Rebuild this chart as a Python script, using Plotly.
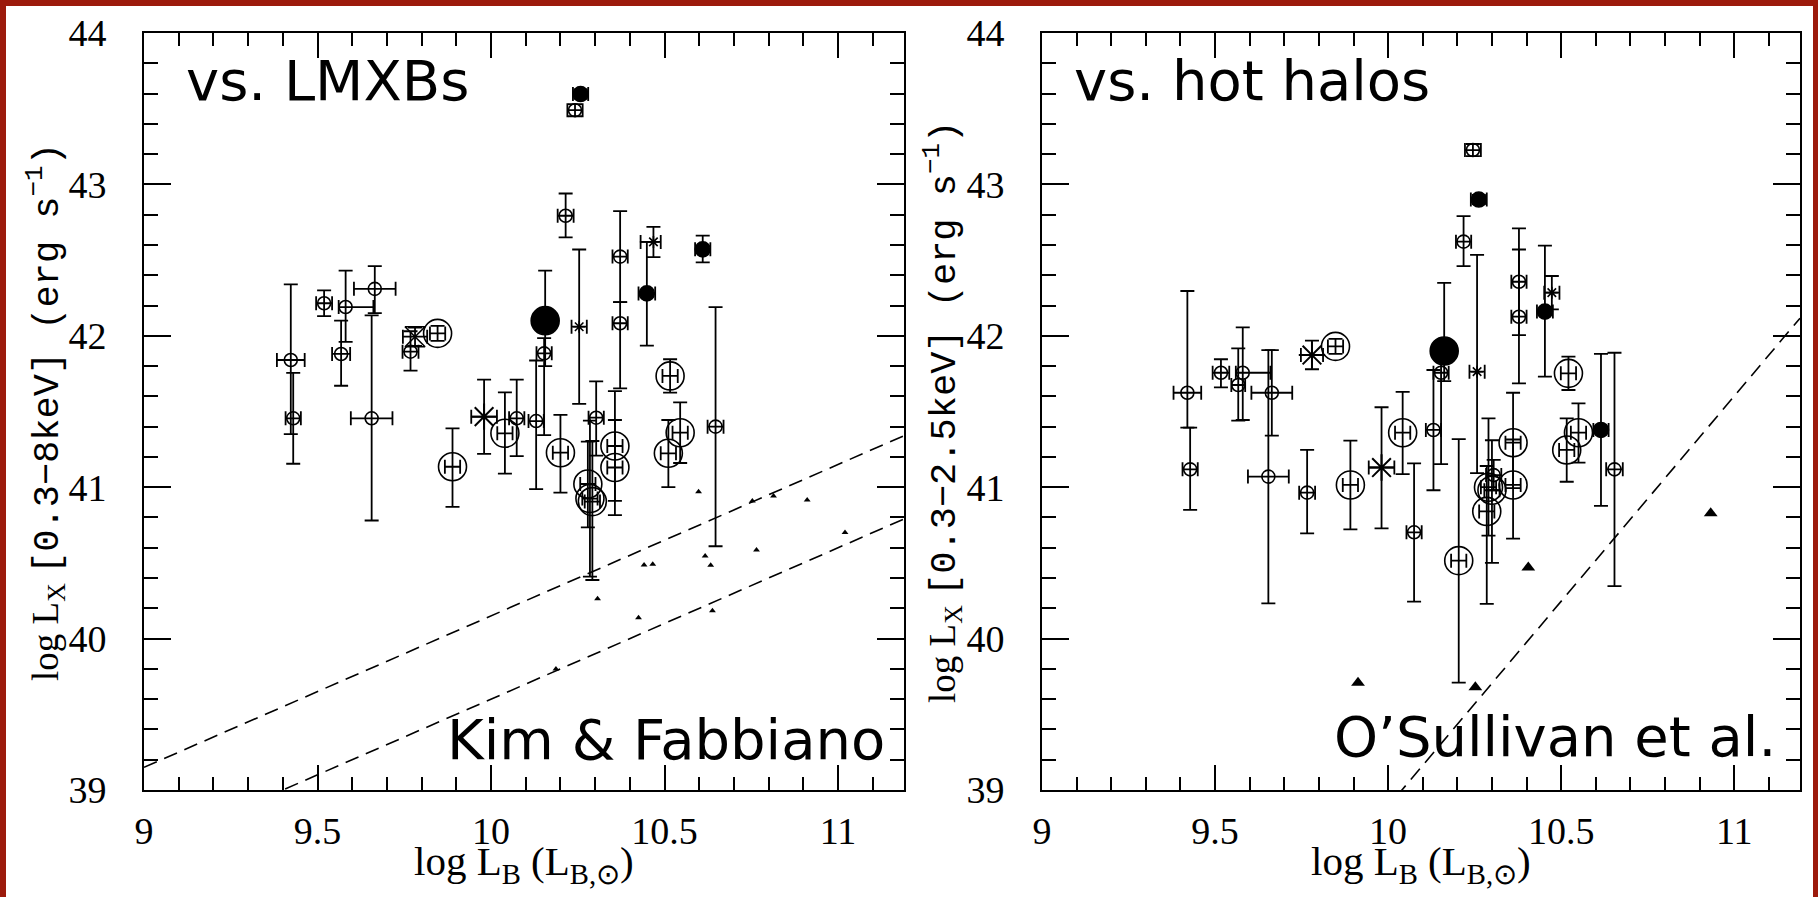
import plotly.graph_objects as go

W, H = 1818, 897

# ---------------- left panel : Kim & Fabbiano, log Lx [0.3-8 keV] ----------------
# small open circles
kf_sm_lb = [9.423, 9.430, 9.519, 9.581, 9.665, 9.568, 9.656, 9.768, 10.074, 10.130, 10.153,
            10.242, 10.215, 10.372, 10.372, 10.303, 10.647]
kf_sm_lx = [41.84, 41.455, 42.215, 42.19, 42.31, 41.88, 41.455, 41.895, 41.455, 41.437, 41.884,
            43.49, 42.793, 42.523, 42.083, 41.459, 41.40]
kf_sm_up = [0.50, 0.30, 0.085, 0.24, 0.15, 0.22, 0.68, 0.135, 0.255, 0.40, 0.10,
            0.04, 0.147, 0.30, 0.14, 0.24, 0.79]
kf_sm_dn = [0.49, 0.30, 0.085, 0.23, 0.16, 0.21, 0.675, 0.125, 0.25, 0.45, 0.54,
            0.04, 0.143, 0.30, 0.43, 0.25, 0.79]
kf_sm_xl = [0.04, 0.022, 0.023, 0.02, 0.06, 0.026, 0.06, 0.023, 0.022, 0.022, 0.022,
            0.022, 0.023, 0.022, 0.022, 0.022, 0.023]
kf_sm_xr = [0.04, 0.022, 0.023, 0.08, 0.06, 0.026, 0.06, 0.023, 0.022, 0.022, 0.022,
            0.022, 0.023, 0.022, 0.022, 0.022, 0.023]

# large open circles
kf_lg_lb = [9.846, 9.889, 10.040, 10.200, 10.516, 10.545, 10.511, 10.357, 10.357, 10.279, 10.285, 10.292]
kf_lg_lx = [42.016, 41.135, 41.356, 41.228, 41.735, 41.36, 41.224, 41.272, 41.13, 41.021, 40.925, 40.905]
kf_lg_up = [0.05, 0.254, 0.27, 0.25, 0.11, 0.20, 0.22, 0.363, 0.314, 0.28, 0.515, 0.40]
kf_lg_dn = [0.05, 0.265, 0.266, 0.264, 0.11, 0.20, 0.224, 0.362, 0.314, 0.286, 0.515, 0.518]
kf_lg_xe = [0.022] * 12

# small filled circles
kf_fill_lb = [10.258, 10.449, 10.610]
kf_fill_lx = [43.597, 42.28, 42.571]
kf_fill_up = [0.03, 0.34, 0.09]
kf_fill_dn = [0.03, 0.345, 0.086]
kf_fill_xe = [0.022, 0.024, 0.022]

# big filled circle
kf_big_lb = [10.156]
kf_big_lx = [42.10]
kf_big_up = [0.33]
kf_big_dn = [0.30]

# asterisks (big, small) and hourglass
kf_ast_lb = [9.980]
kf_ast_lx = [41.466]
kf_ast_up = [0.244]
kf_ast_dn = [0.246]
kf_ast_xe = [0.037]

kf_star_lb = [10.254, 10.468]
kf_star_lx = [42.06, 42.62]
kf_star_up = [0.51, 0.10]
kf_star_dn = [0.51, 0.10]
kf_star_xl = [0.022, 0.037]
kf_star_xr = [0.022, 0.021]

kf_hg_lb = [9.781]
kf_hg_lx = [41.994]
kf_hg_up = [0.06]
kf_hg_dn = [0.06]
kf_hg_xe = [0.035]

# triangles
kf_tri_lb = [10.598, 10.753, 10.814, 10.911, 11.02, 10.765, 10.617, 10.633, 10.441, 10.466,
             10.307, 10.425, 10.638, 10.187]
kf_tri_lx = [40.97, 40.909, 40.942, 40.915, 40.70, 40.585, 40.545, 40.484, 40.486, 40.491,
             40.263, 40.138, 40.184, 39.80]

# LMXB lines: log Lx = log LB + offset
kf_line_offsets = [30.15, 29.60]

# ---------------- right panel : O'Sullivan et al., log Lx [0.3-2.5 keV] ----------------
os_sm_lb = [10.245, 10.218, 10.378, 10.378, 10.153, 10.131, 9.517, 9.580, 9.567, 9.420,
            9.428, 9.664, 9.654, 9.766, 10.075, 10.654, 10.305]
os_sm_lx = [43.227, 42.622, 42.357, 42.126, 41.756, 41.378, 41.756, 41.756, 41.675, 41.624,
            41.118, 41.624, 41.07, 40.964, 40.702, 41.118, 41.08]
os_sm_up = [0.04, 0.168, 0.353, 0.444, 0.10, 0.396, 0.089, 0.30, 0.242, 0.672,
            0.275, 0.282, 0.836, 0.282, 0.456, 0.77, 0.10]
os_sm_dn = [0.04, 0.162, 0.352, 0.44, 0.603, 0.398, 0.096, 0.312, 0.235, 0.231,
            0.268, 0.284, 0.837, 0.269, 0.458, 0.771, 0.10]
os_sm_xl = [0.023, 0.022, 0.022, 0.022, 0.022, 0.022, 0.024, 0.02, 0.02, 0.04,
            0.022, 0.059, 0.059, 0.023, 0.022, 0.024, 0.022]
os_sm_xr = [0.023, 0.022, 0.022, 0.022, 0.022, 0.022, 0.024, 0.08, 0.02, 0.04,
            0.022, 0.059, 0.059, 0.023, 0.022, 0.024, 0.022]

os_lg_lb = [9.848, 9.891, 10.042, 10.204, 10.521, 10.550, 10.516, 10.361, 10.361, 10.290, 10.300, 10.285]
os_lg_lx = [41.93, 41.015, 41.36, 40.515, 41.752, 41.36, 41.246, 41.294, 41.015, 41.00, 40.98, 40.84]
os_lg_up = [0.05, 0.292, 0.27, 0.803, 0.11, 0.194, 0.209, 0.33, 0.30, 0.455, 0.33, 0.30]
os_lg_dn = [0.05, 0.293, 0.273, 0.806, 0.11, 0.198, 0.21, 0.30, 0.355, 0.32, 0.48, 0.61]
os_lg_xe = [0.022] * 12

os_fill_lb = [10.262, 10.453, 10.615]
os_fill_lx = [42.90, 42.16, 41.378]
os_fill_up = [0.03, 0.435, 0.502]
os_fill_dn = [0.03, 0.43, 0.502]
os_fill_xe = [0.023, 0.023, 0.022]

os_big_lb = [10.162]
os_big_lx = [41.90]
os_big_up = [0.45]
os_big_dn = [0.20]

os_ast_lb = [9.780, 9.981]
os_ast_lx = [41.873, 41.13]
os_ast_up = [0.095, 0.398]
os_ast_dn = [0.094, 0.402]
os_ast_xe = [0.032, 0.037]

os_star_lb = [10.257, 10.473]
os_star_lx = [41.763, 42.285]
os_star_up = [0.771, 0.11]
os_star_dn = [0.67, 0.11]
os_star_xe = [0.022, 0.022]

os_tri_lb = [9.913, 10.252, 10.405, 10.932]
os_tri_lx = [39.709, 39.678, 40.47, 40.828]

# hot-halo relation: log Lx = pivot_lx + slope * (log LB - pivot_lb)
os_line_slope = 2.71
os_line_pivot = (10.04, 39.0)

X_RANGE = [9, 11.19]
Y_RANGE = [39, 44]

fig = go.Figure()


def add_points(xa, ya, lb, lx, up=None, dn=None, xl=None, xr=None,
               symbol='circle-open', size=13, lw=1.6):
    kw = {}
    if up is not None:
        kw['error_y'] = dict(type='data', symmetric=False, array=up, arrayminus=dn,
                             color='black', thickness=1.8, width=7)
    if xl is not None:
        kw['error_x'] = dict(type='data', symmetric=False, array=xr, arrayminus=xl,
                             color='black', thickness=1.8, width=7)
    fig.add_trace(go.Scatter(
        x=lb, y=lx, xaxis=xa, yaxis=ya, mode='markers',
        marker=dict(symbol=symbol, size=size, color='black',
                    line=dict(color='black', width=lw)),
        showlegend=False, hoverinfo='skip', **kw))


# left panel
for off in kf_line_offsets:
    fig.add_trace(go.Scatter(x=X_RANGE, y=[X_RANGE[0] + off, X_RANGE[1] + off],
                             xaxis='x', yaxis='y', mode='lines',
                             line=dict(color='black', width=1.6, dash='14px,8px'),
                             showlegend=False, hoverinfo='skip'))
add_points('x', 'y', kf_sm_lb, kf_sm_lx, kf_sm_up, kf_sm_dn, kf_sm_xl, kf_sm_xr, 'circle-open', 13)
add_points('x', 'y', kf_lg_lb, kf_lg_lx, kf_lg_up, kf_lg_dn, kf_lg_xe, kf_lg_xe, 'circle-open', 28)
add_points('x', 'y', kf_fill_lb, kf_fill_lx, kf_fill_up, kf_fill_dn, kf_fill_xe, kf_fill_xe, 'circle', 15)
add_points('x', 'y', kf_big_lb, kf_big_lx, kf_big_up, kf_big_dn, None, None, 'circle', 28)
add_points('x', 'y', kf_ast_lb, kf_ast_lx, kf_ast_up, kf_ast_dn, kf_ast_xe, kf_ast_xe, 'asterisk-open', 22, 2)
add_points('x', 'y', kf_star_lb, kf_star_lx, kf_star_up, kf_star_dn, kf_star_xl, kf_star_xr, 'asterisk-open', 10)
add_points('x', 'y', kf_hg_lb, kf_hg_lx, kf_hg_up, kf_hg_dn, kf_hg_xe, kf_hg_xe, 'hourglass-open', 20)
add_points('x', 'y', kf_tri_lb, kf_tri_lx, symbol='triangle-up', size=6, lw=0)

# right panel
p_lb, p_lx = os_line_pivot
fig.add_trace(go.Scatter(x=X_RANGE,
                         y=[p_lx + os_line_slope * (v - p_lb) for v in X_RANGE],
                         xaxis='x2', yaxis='y2', mode='lines',
                         line=dict(color='black', width=1.6, dash='14px,8px'),
                         showlegend=False, hoverinfo='skip'))
add_points('x2', 'y2', os_sm_lb, os_sm_lx, os_sm_up, os_sm_dn, os_sm_xl, os_sm_xr, 'circle-open', 13)
add_points('x2', 'y2', os_lg_lb, os_lg_lx, os_lg_up, os_lg_dn, os_lg_xe, os_lg_xe, 'circle-open', 28)
add_points('x2', 'y2', os_fill_lb, os_fill_lx, os_fill_up, os_fill_dn, os_fill_xe, os_fill_xe, 'circle', 15)
add_points('x2', 'y2', os_big_lb, os_big_lx, os_big_up, os_big_dn, None, None, 'circle', 28)
add_points('x2', 'y2', os_ast_lb, os_ast_lx, os_ast_up, os_ast_dn, os_ast_xe, os_ast_xe, 'asterisk-open', 22, 2)
add_points('x2', 'y2', os_star_lb, os_star_lx, os_star_up, os_star_dn, os_star_xe, os_star_xe, 'asterisk-open', 10)
add_points('x2', 'y2', os_tri_lb, os_tri_lx, symbol='triangle-up', size=12, lw=0)

# empty traces that give the tick-only overlay axes a subplot
for xa, ya in [('x3', 'y'), ('x4', 'y'), ('x', 'y3'), ('x', 'y4'),
               ('x5', 'y2'), ('x6', 'y2'), ('x2', 'y5'), ('x2', 'y6')]:
    fig.add_trace(go.Scatter(x=[None], y=[None], xaxis=xa, yaxis=ya, mode='markers',
                             showlegend=False, hoverinfo='skip'))

tick_font = dict(family='Liberation Serif', size=38, color='black')
axis_common = dict(showline=True, linecolor='black', linewidth=2, mirror=True,
                   ticks='inside', tickwidth=2, tickcolor='black', showgrid=False,
                   zeroline=False, tickfont=tick_font, automargin=False)
xaxis_style = dict(axis_common, range=X_RANGE, tick0=9, dtick=0.5, ticklen=25,
                   ticklabelstandoff=6)
yaxis_style = dict(axis_common, range=Y_RANGE, tick0=39, dtick=1, ticklen=27,
                   ticklabelstandoff=28)


def tick_axis(rng, t0, dt, tlen, anchor, over):
    # label-free axis drawn on top of a main axis, only for its tick marks
    return dict(range=rng, tick0=t0, dtick=dt, ticklen=tlen, anchor=anchor,
                overlaying=over, showline=False, mirror='allticks', ticks='inside',
                tickwidth=2, tickcolor='black', showgrid=False, zeroline=False,
                showticklabels=False, automargin=False)


y_dom = [1 - 790 / H, 1 - 33 / H]
dom_l = [144 / W, 904 / W]
dom_r = [1042 / W, 1800 / W]
fig.update_layout(
    template='none',
    width=W, height=H, margin=dict(l=0, r=0, t=0, b=0, pad=0), autosize=False,
    paper_bgcolor='white', plot_bgcolor='white',
    xaxis=dict(xaxis_style, domain=dom_l, anchor='y'),
    yaxis=dict(yaxis_style, domain=y_dom, anchor='x'),
    xaxis2=dict(xaxis_style, domain=dom_r, anchor='y2'),
    yaxis2=dict(yaxis_style, domain=y_dom, anchor='x2'),
    xaxis3=tick_axis(X_RANGE, 9, 0.1, 13, 'y', 'x'),
    xaxis4=tick_axis(X_RANGE, 9, 0.5, 25, 'y', 'x'),
    yaxis3=tick_axis(Y_RANGE, 39, 0.2, 14, 'x', 'y'),
    yaxis4=tick_axis(Y_RANGE, 39, 1, 27, 'x', 'y'),
    xaxis5=tick_axis(X_RANGE, 9, 0.1, 13, 'y2', 'x2'),
    xaxis6=tick_axis(X_RANGE, 9, 0.5, 25, 'y2', 'x2'),
    yaxis5=tick_axis(Y_RANGE, 39, 0.2, 14, 'x2', 'y2'),
    yaxis6=tick_axis(Y_RANGE, 39, 1, 27, 'x2', 'y2'),
)

serif = 'Liberation Serif'
sans = 'DejaVu Sans'
mono = 'font-family:Liberation Mono'
ytitle_left = ('log L<sub>X</sub> <span style="%s">[0.3\u22128keV] (erg s<sup>\u22121</sup>)</span>' % mono)
ytitle_right = ('log L<sub>X</sub> <span style="%s">[0.3\u22122.5keV] (erg s<sup>\u22121</sup>)</span>' % mono)
xtitle = 'log L<sub>B</sub> (L<sub>B,\u2299</sub>)'

annots = [
    dict(x=45 / W, y=1 - 412 / H, text=ytitle_left, textangle=-90,
         font=dict(family=serif, size=37)),
    dict(x=942 / W, y=1 - 412 / H, text=ytitle_right, textangle=-90,
         font=dict(family=serif, size=37)),
    dict(x=524 / W, y=1 - 864 / H, text=xtitle, font=dict(family=serif, size=41)),
    dict(x=1421 / W, y=1 - 864 / H, text=xtitle, font=dict(family=serif, size=41)),
    dict(x=184 / W, y=1 - 81 / H, text='vs. LMXBs', xanchor='left',
         font=dict(family=sans, size=56)),
    dict(x=1072 / W, y=1 - 81 / H, text='vs. hot halos', xanchor='left',
         font=dict(family=sans, size=56)),
    dict(x=887 / W, y=1 - 739 / H, text='Kim &amp; Fabbiano', xanchor='right',
         font=dict(family=sans, size=56)),
    dict(x=1778 / W, y=1 - 736 / H, text='O\u2019Sullivan et al.', xanchor='right',
         font=dict(family=sans, size=56)),
]
for a in annots:
    a.setdefault('xanchor', 'center')
    a.update(xref='paper', yref='paper', yanchor='middle', showarrow=False)
    a['font'].setdefault('color', 'black')
fig.update_layout(annotations=annots)

# dark red frame on left, top and right edges
frame = '#9c1a0c'
fig.update_layout(shapes=[
    dict(type='rect', xref='paper', yref='paper', x0=0, x1=6 / W, y0=0, y1=1,
         fillcolor=frame, line_width=0),
    dict(type='rect', xref='paper', yref='paper', x0=0, x1=1, y0=1 - 6 / H, y1=1,
         fillcolor=frame, line_width=0),
    dict(type='rect', xref='paper', yref='paper', x0=1 - 5 / W, x1=1, y0=0, y1=1,
         fillcolor=frame, line_width=0),
])

fig.write_html("out.html", config={'displayModeBar': False},
               post_script="document.body.style.margin='0';document.body.style.overflow='hidden';")
